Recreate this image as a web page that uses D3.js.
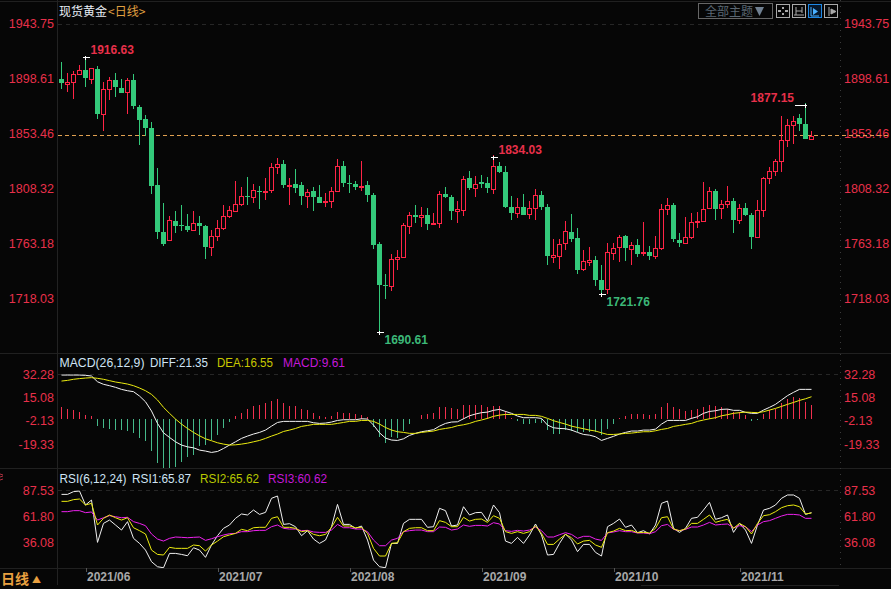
<!DOCTYPE html>
<html><head><meta charset="utf-8">
<script src="https://cdn.jsdelivr.net/npm/d3@7"></script>
<style>
html,body{margin:0;padding:0;background:#060606;overflow:hidden}
svg{display:block}
text{font-family:"Liberation Sans",Arial,sans-serif}
.cjk{font-family:"Noto Sans CJK SC",sans-serif}
</style></head><body><div id="c"></div>
<script>
const opens=[1898.4,1894.5,1896.1,1902.7,1905.7,1898.6,1906.5,1869.9,1890.4,1897.5,
1891.0,1888.0,1897.5,1875.4,1865.5,1858.1,1811.3,1772.7,1766.4,1781.7,
1778.5,1777.6,1774.4,1780.1,1777.6,1760.4,1769.7,1776.0,1785.9,1790.0,
1795.7,1802.3,1801.5,1806.4,1805.6,1807.2,1826.1,1828.6,1810.5,1812.1,
1811.3,1802.3,1806.4,1801.5,1797.1,1798.2,1806.4,1826.9,1813.0,1812.1,
1809.7,1811.3,1803.1,1762.9,1729.2,1728.4,1750.6,1752.2,1777.7,1786.7,
1785.0,1786.7,1779.3,1779.8,1803.9,1801.5,1790.0,1791.1,1817.1,1808.8,
1813.8,1813.0,1808.0,1826.9,1822.0,1793.3,1788.3,1793.3,1787.5,1792.4,
1803.1,1793.3,1752.2,1753.0,1763.7,1772.7,1767.8,1742.3,1748.1,1749.7,
1733.3,1726.2,1755.5,1760.4,1769.4,1758.8,1762.0,1755.2,1756.3,1753.0,
1759.8,1791.6,1794.9,1766.2,1763.7,1768.6,1780.9,1782.0,1792.4,1806.4,
1792.4,1795.7,1798.2,1782.6,1792.4,1786.7,1768.6,1790.8,1817.1,1822.8,
1831.0,1848.2,1860.6,1866.3,1861.4,1849.1];
const closes=[1895.1,1895.6,1902.2,1905.5,1899.2,1907.1,1869.6,1889.9,1897.2,1891.8,
1886.8,1897.2,1876.2,1864.7,1858.1,1810.5,1772.7,1762.9,1782.3,1777.6,
1777.6,1774.4,1779.8,1777.6,1760.4,1769.4,1776.0,1785.9,1790.8,1795.7,
1802.3,1801.5,1807.2,1805.6,1806.4,1826.1,1828.6,1811.3,1811.3,1808.8,
1802.3,1805.6,1801.5,1796.5,1798.2,1806.4,1826.9,1813.0,1812.1,1809.7,
1810.5,1803.1,1762.0,1729.2,1728.4,1750.6,1752.2,1778.5,1786.7,1785.0,
1786.7,1779.3,1780.1,1803.9,1801.5,1790.0,1791.6,1816.2,1808.8,1812.1,
1812.1,1808.8,1826.9,1822.0,1793.3,1788.3,1793.3,1786.7,1792.4,1803.1,
1793.3,1753.0,1753.8,1762.9,1773.5,1767.0,1741.5,1748.9,1749.7,1733.3,
1725.1,1756.3,1759.6,1768.6,1759.6,1762.0,1754.7,1756.3,1753.0,1759.6,
1791.6,1794.9,1767.0,1763.7,1768.6,1780.9,1781.7,1791.6,1806.4,1791.6,
1795.7,1798.2,1782.6,1792.4,1786.7,1768.6,1790.8,1817.1,1822.8,1831.0,
1848.2,1860.6,1863.8,1861.4,1849.1,1851.5];
const highs=[1912.3,1903.3,1904.6,1909.8,1916.63,1907.6,1909.0,1895.9,1899.7,1903.3,
1898.4,1899.2,1902.4,1877.0,1868.8,1863.0,1825.3,1796.5,1785.9,1790.0,
1794.9,1787.5,1790.0,1785.9,1778.5,1774.4,1782.6,1794.9,1794.1,1814.6,
1809.7,1817.9,1812.1,1810.5,1817.1,1829.4,1833.5,1831.8,1817.1,1824.4,
1813.8,1808.0,1809.7,1811.3,1804.8,1809.7,1832.7,1831.0,1819.5,1814.6,
1831.0,1814.6,1804.8,1764.5,1738.2,1754.7,1758.0,1780.1,1789.1,1794.9,
1793.3,1792.4,1788.3,1806.4,1809.7,1803.1,1798.2,1818.7,1822.8,1818.7,
1819.5,1817.9,1836.0,1830.2,1826.9,1802.3,1800.6,1803.9,1798.2,1808.0,
1806.4,1795.7,1767.0,1767.0,1781.8,1787.5,1776.0,1758.0,1760.4,1753.0,
1745.6,1763.7,1763.7,1770.3,1770.3,1764.5,1767.0,1780.9,1761.2,1769.4,
1795.7,1800.6,1796.5,1771.9,1785.0,1788.3,1789.1,1813.8,1809.7,1808.0,
1799.0,1810.5,1800.6,1795.7,1796.5,1788.3,1799.0,1817.9,1826.1,1832.6,
1868.0,1865.5,1868.0,1869.6,1878.6,1855.6];
const lows=[1890.1,1888.0,1881.9,1901.9,1891.8,1894.2,1865.5,1855.6,1881.1,1883.6,
1886.8,1869.6,1873.7,1844.1,1851.5,1803.9,1767.0,1761.2,1766.4,1771.9,
1773.5,1772.7,1773.5,1770.2,1750.5,1753.0,1765.3,1774.4,1784.2,1790.0,
1794.1,1794.9,1796.5,1791.6,1799.0,1804.8,1820.4,1808.8,1794.9,1804.8,
1794.9,1792.4,1790.0,1796.5,1793.3,1792.4,1806.4,1809.7,1804.8,1807.2,
1806.4,1797.3,1758.8,1690.61,1717.7,1724.3,1741.5,1751.4,1771.1,1780.1,
1776.8,1774.4,1778.5,1776.0,1800.6,1782.6,1780.1,1785.9,1807.2,1801.5,
1808.8,1804.8,1803.9,1821.2,1792.4,1782.6,1784.2,1786.7,1783.4,1782.6,
1790.8,1745.6,1747.3,1742.3,1758.0,1764.5,1738.2,1740.7,1744.8,1728.4,
1721.76,1721.8,1749.7,1748.1,1748.9,1745.6,1752.2,1753.0,1749.7,1750.5,
1758.0,1786.7,1764.5,1760.4,1762.9,1767.0,1776.0,1782.0,1792.4,1782.6,
1783.4,1792.4,1771.9,1779.3,1785.9,1758.7,1768.6,1785.0,1812.1,1818.7,
1822.0,1842.5,1845.0,1855.6,1849.1,1849.1];
const lastPrice=1852.1;
const priceTicks=[1943.75,1898.61,1853.46,1808.32,1763.18,1718.03];
const extremeIndex=[4,53,72,90,124];
const extremeValue=[1916.63,1690.61,1834.03,1721.76,1877.15];
const extremeKind=["high","low","high","low","highLeft"];

const diff=[31.5,31.5,31.5,31.5,31.3,30.8,26.6,24.7,23.7,22.5,
21.0,20.0,19.3,16.1,11.9,5.1,-4.0,-10.9,-14.3,-17.5,
-19.9,-21.2,-21.9,-23.6,-24.3,-25.3,-24.6,-22.4,-19.9,-17.5,
-15.0,-13.3,-11.8,-10.6,-8.9,-6.0,-3.3,-2.5,-2.5,-2.5,
-2.5,-2.5,-3.5,-4.0,-3.75,-3.0,-1.8,-1.3,-1.3,-1.3,
-0.6,-0.8,-5.2,-10.9,-14.8,-16.2,-16.5,-15.3,-12.8,-11.3,
-10.1,-9.4,-8.6,-6.0,-4.0,-3.0,-2.8,-0.6,1.6,2.9,
3.9,4.3,5.6,6.3,4.8,3.4,1.4,0.2,0.2,0.2,
-0.3,-5.2,-7.2,-7.7,-7.9,-8.9,-10.6,-12.1,-12.6,-13.8,
-16.5,-15.0,-13.5,-11.8,-10.6,-9.6,-9.6,-8.9,-8.9,-8.2,
-4.5,-1.8,-1.8,-1.8,-1.8,-0.3,0.9,3.4,4.8,5.3,
6.3,6.5,5.6,5.6,4.1,3.4,3.4,5.8,7.8,10.0,
13.2,16.4,18.8,21.0,21.0,21.0];
const dea=[27.1,27.6,28.4,28.9,29.3,29.6,29.1,28.4,27.4,26.4,
25.7,24.9,23.7,22.0,20.0,17.3,13.2,7.8,3.4,-0.8,
-4.5,-7.7,-10.6,-13.1,-15.3,-16.7,-18.2,-19.2,-19.9,-19.7,
-19.2,-18.5,-17.5,-16.5,-15.0,-13.3,-11.8,-9.9,-8.9,-7.7,
-6.2,-5.5,-4.7,-4.7,-4.7,-4.7,-4.0,-3.3,-2.5,-2.5,
-1.8,-1.8,-2.5,-4.5,-7.0,-8.9,-10.1,-10.6,-11.3,-11.3,
-10.6,-10.1,-9.6,-8.4,-7.7,-7.0,-5.7,-5.0,-4.0,-2.5,
-1.5,-0.3,1.2,2.1,2.6,2.6,2.6,2.6,1.9,1.9,
1.2,-0.3,-2.0,-3.3,-4.5,-6.0,-7.0,-7.9,-8.9,-9.6,
-10.9,-12.1,-12.1,-11.8,-11.3,-11.1,-10.6,-10.1,-10.1,-9.4,
-8.4,-7.7,-6.2,-5.5,-4.7,-4.0,-2.5,-1.5,-0.6,0.2,
1.6,2.4,3.4,3.9,4.3,4.1,3.9,4.6,5.8,7.0,
8.5,10.0,11.4,12.9,14.1,15.6];
const macd=[9.3,7.6,6.9,5.6,3.2,2.7,-4.9,-6.1,-6.9,-7.8,
-8.1,-8.6,-10.3,-13.7,-15.7,-23.0,-31.9,-35.5,-35.5,-35.3,
-31.1,-27.5,-26.0,-19.6,-18.6,-15.2,-11.8,-6.1,-2.0,2.7,
4.4,7.6,9.8,10.5,12.3,13.7,15.0,11.8,10.0,9.8,
7.4,6.9,4.9,2.5,2.0,2.7,5.4,4.7,4.7,3.7,
3.2,1.7,-5.9,-13.2,-17.2,-12.7,-13.7,-8.6,-3.4,0.25,
3.2,3.9,4.9,9.1,9.1,8.1,7.4,10.3,10.5,10.5,
10.5,9.3,9.8,9.8,5.9,1.0,-1.0,-3.4,-3.4,-2.5,
-2.5,-7.8,-10.8,-10.8,-7.8,-8.6,-9.6,-9.3,-9.3,-9.6,
-11.5,-7.1,-3.4,1.0,2.7,3.9,3.9,3.9,3.2,3.9,
9.1,12.0,9.1,7.6,6.1,6.9,7.6,9.1,10.5,9.8,
9.1,7.6,5.4,5.4,3.2,-1.0,-0.7,3.9,6.9,7.6,
12.0,15.0,16.2,15.7,12.7,10.5];
const macdTicks=[32.28,15.08,-2.13,-19.33];
const macdBase=-1.03;

const rsi1=[83.2,83.2,85.9,86.5,72.7,77.6,35.7,54.5,57.8,52.9,
47.9,56.2,39.7,34.7,28.1,16.6,11.6,10.6,24.8,24.8,
23.8,22.5,30.4,28.1,20.9,33.1,42.3,49.6,52.9,59.5,
63.8,62.8,67.7,63.4,65.4,79.3,81.6,53.5,54.2,51.2,
42.3,47.3,39.0,34.7,38.0,51.2,73.3,53.5,53.5,49.6,
51.9,38.0,18.2,11.6,10.6,34.7,34.7,54.5,58.5,58.5,
58.5,50.6,51.2,69.4,67.1,51.9,52.9,71.0,62.8,65.1,
65.4,56.8,72.7,65.1,37.0,34.7,40.7,34.7,43.0,53.9,
43.0,23.2,23.8,34.7,44.0,38.0,26.5,33.7,33.7,25.8,
22.2,51.2,54.5,58.8,50.6,52.9,45.3,47.3,44.0,52.9,
74.3,76.6,49.6,45.6,49.6,59.5,60.5,67.7,75.3,58.5,
60.1,62.8,45.6,54.5,47.9,34.7,52.9,67.7,69.4,72.7,
79.3,82.6,82.6,79.3,63.4,65.1];
const rsi2=[76.3,76.3,78.0,78.6,72.7,74.3,52.9,59.5,62.8,60.1,
57.8,60.1,50.2,47.3,44.0,28.1,23.8,23.2,30.8,29.8,
29.8,29.8,33.1,32.4,27.1,33.1,37.0,41.3,43.0,44.6,
48.6,47.3,50.2,50.6,50.6,59.5,61.1,50.6,50.6,49.6,
46.3,47.3,43.6,42.3,43.6,50.6,60.5,51.9,51.9,50.2,
50.6,44.6,29.8,22.2,22.2,34.7,35.4,46.3,49.6,50.2,
50.2,47.3,47.3,57.2,55.5,51.2,51.2,60.5,56.8,58.5,
58.8,55.5,62.1,59.5,46.3,44.6,46.3,44.6,46.3,51.9,
44.6,33.7,33.7,39.0,43.6,40.3,34.1,37.0,37.7,33.1,
30.8,45.3,46.9,49.6,47.3,47.6,45.3,45.6,45.0,49.6,
60.1,61.1,48.9,47.3,48.9,54.5,54.5,58.5,62.8,55.5,
57.2,58.5,49.6,54.5,51.2,44.0,54.5,62.1,63.1,66.1,
70.0,72.0,72.7,71.0,63.8,64.8];
const rsi3=[66.1,66.1,67.1,67.1,65.1,65.8,57.8,60.1,62.1,61.1,
60.1,60.5,56.2,54.5,52.2,44.0,39.0,37.0,39.7,41.0,
40.7,40.3,40.7,41.0,37.7,39.3,41.3,43.0,44.3,44.6,
46.3,46.3,47.3,47.6,47.6,51.2,52.9,49.6,48.9,48.9,
47.3,47.6,46.0,45.6,45.6,47.9,53.5,50.2,50.2,48.9,
48.9,46.3,38.0,32.4,32.4,38.0,39.7,46.3,47.3,47.9,
47.9,46.3,46.3,50.9,50.6,47.9,48.9,52.9,51.6,52.5,
52.5,51.9,55.2,53.9,47.3,46.6,47.6,46.9,47.9,50.9,
47.3,41.0,41.0,43.3,45.3,43.6,39.7,41.7,41.7,39.0,
37.7,45.0,46.0,47.3,46.3,46.3,45.0,45.0,44.3,46.3,
52.2,53.5,48.6,47.3,48.6,50.9,50.9,52.9,55.5,52.9,
53.5,53.9,50.2,52.2,51.2,46.3,52.9,56.2,57.2,59.5,
61.8,63.4,63.4,62.8,59.5,59.5];
const rsiTicks=[87.53,61.80,36.08];
const monthIndex=[4,26,48,70,92,113];
const monthLabels=["2021/06","2021/07","2021/08","2021/09","2021/10","2021/11"];

const W=891,H=589,L=57,R=840;
const RED="#ff2446",GREEN="#33c97a",AXRED="#e8304a";
const svg=d3.select("#c").append("svg").attr("width",W).attr("height",H).attr("viewBox",`0 0 ${W} ${H}`);
const x=d3.scaleLinear().domain([0,125]).range([61.5,811.5]);
const yP=d3.scaleLinear().domain([1690.61,1916.63]).range([332,56.7]);
const yM=d3.scaleLinear().domain([-19.33,32.28]).range([444.3,374]);
const yR=d3.scaleLinear().domain([36.08,87.53]).range([542,490]);

const defs=svg.append("defs");
defs.append("clipPath").attr("id","cm").append("rect").attr("x",L).attr("y",354).attr("width",R-L).attr("height",114);
defs.append("clipPath").attr("id","cr").append("rect").attr("x",L).attr("y",469).attr("width",R-L).attr("height",99);

// frame
const frame=svg.append("g").attr("shape-rendering","crispEdges");
[1,353,468,568].forEach(y=>frame.append("line").attr("x1",0).attr("x2",W).attr("y1",y+.5).attr("y2",y+.5).attr("stroke","#202020"));
frame.append("line").attr("x1",L+.5).attr("x2",L+.5).attr("y1",0).attr("y2",585).attr("stroke","#222");
frame.append("line").attr("x1",R+.5).attr("x2",R+.5).attr("y1",0).attr("y2",568).attr("stroke","#3a3a3a").attr("stroke-dasharray","1,5");
frame.append("line").attr("x1",641).attr("x2",839).attr("y1",585.5).attr("y2",585.5).attr("stroke","#222");
[yP(1943.75),yM(32.28),yR(87.53)].forEach(y=>frame.append("line").attr("x1",L+1).attr("x2",R).attr("y1",Math.round(y)+.5).attr("y2",Math.round(y)+.5)
  .attr("stroke","#262626").attr("stroke-dasharray","4,4"));

// axes
function axes(scale,vals){
  const f=d=>d.toFixed(2);
  [[L,d3.axisLeft,3],[R,d3.axisRight,4]].forEach(([tx,ax,pad])=>{
    const g=svg.append("g").attr("transform",`translate(${tx},0)`).call(ax(scale).tickValues(vals).tickSize(0).tickPadding(pad).tickFormat(f));
    g.select(".domain").remove();
    g.selectAll("text").attr("fill",AXRED).attr("font-size",12.5).attr("font-family",'"Liberation Sans",Arial,sans-serif');
  });
}
axes(yP,priceTicks);axes(yM,macdTicks);axes(yR,rsiTicks);

// last price
svg.append("line").attr("x1",L+1).attr("x2",W).attr("y1",Math.round(yP(lastPrice))+.5).attr("y2",Math.round(yP(lastPrice))+.5)
  .attr("stroke","#e0a050").attr("stroke-dasharray","4,3").attr("shape-rendering","crispEdges");

// candles
const idx=d3.range(opens.length);
const cg=svg.append("g").attr("shape-rendering","crispEdges");
const col=i=>closes[i]>=opens[i]?RED:GREEN;
cg.selectAll("line.w").data(idx).join("line").attr("class","w")
  .attr("x1",x).attr("x2",x).attr("y1",i=>yP(highs[i])).attr("y2",i=>yP(lows[i])).attr("stroke",col);
cg.selectAll("rect").data(idx).join("rect")
  .attr("x",i=>closes[i]>=opens[i]?x(i)-2:x(i)-2.5)
  .attr("width",i=>closes[i]>=opens[i]?4:5)
  .attr("y",i=>Math.round(yP(Math.max(opens[i],closes[i])))+(closes[i]>=opens[i]?.5:0))
  .attr("height",i=>Math.max(1,Math.round(yP(Math.min(opens[i],closes[i])))-Math.round(yP(Math.max(opens[i],closes[i])))))
  .attr("fill",i=>closes[i]>=opens[i]?"#060606":GREEN)
  .attr("stroke",i=>closes[i]>=opens[i]?RED:"none");

// extreme markers
const mk=svg.append("g").attr("shape-rendering","crispEdges");
extremeIndex.forEach((k,j)=>{
  const X=x(k),Y=Math.round(yP(extremeValue[j]))+.5,kind=extremeKind[j];
  const left=kind==="highLeft";
  mk.append("line").attr("x1",left?X-11:X-2.5).attr("x2",left?X+1:X+4.5).attr("y1",Y).attr("y2",Y).attr("stroke","#fff");
  mk.append("line").attr("x1",X).attr("x2",X).attr("y1",Y-2).attr("y2",Y+2).attr("stroke","#fff");
  const isLow=kind==="low";
  svg.append("text").text(extremeValue[j].toFixed(2))
    .attr("x",left?X-11.5:X+5).attr("text-anchor",left?"end":"start")
    .attr("y",isLow?Y+7:Y-8).attr("dy",".35em")
    .attr("font-size",12).attr("font-weight","bold").attr("fill",isLow?"#3cb878":"#e8304a");
});

// MACD
const mg=svg.append("g").attr("clip-path","url(#cm)");
mg.append("g").attr("shape-rendering","crispEdges").selectAll("line").data(idx).join("line")
  .attr("x1",x).attr("x2",x).attr("y1",yM(macdBase)).attr("y2",i=>yM(macdBase+macd[i]))
  .attr("stroke",i=>macd[i]>=0?"#f0304e":"#45b98a");
const lineM=d3.line().x((d,i)=>x(i)).y(d=>yM(d));
mg.append("path").attr("d",lineM(diff)).attr("fill","none").attr("stroke","#f4f4f4");
mg.append("path").attr("d",lineM(dea)).attr("fill","none").attr("stroke","#ecec10");

// RSI
const rg=svg.append("g").attr("clip-path","url(#cr)");
const lineR=d3.line().x((d,i)=>x(i)).y(d=>yR(d));
rg.append("path").attr("d",lineR(rsi1)).attr("fill","none").attr("stroke","#f0f0f0");
rg.append("path").attr("d",lineR(rsi3)).attr("fill","none").attr("stroke","#ee22ee");
rg.append("path").attr("d",lineR(rsi2)).attr("fill","none").attr("stroke","#ecec10");

// legends
function legend(y,items){items.forEach(([t,xx,c,w])=>svg.append("text").text(t).attr("x",xx).attr("y",y).attr("font-size",12).attr("textLength",w).attr("lengthAdjust","spacingAndGlyphs").attr("fill",c));}
legend(366.5,[["MACD(26,12,9)",59.5,"#cfe4f5",85],["DIFF:21.35",150,"#cfe4f5",58],["DEA:16.55",217,"#c8c800",56],["MACD:9.61",283,"#c418d8",62]]);
legend(482.5,[["RSI(6,12,24)",59.5,"#cfe4f5",67],["RSI1:65.87",132,"#cfe4f5",59],["RSI2:65.62",200,"#b8c800",59],["RSI3:60.62",268,"#c418d8",59]]);

// title
svg.append("text").attr("class","cjk").text("现货黄金").attr("x",59).attr("y",16).attr("font-size",12).attr("fill","#e8eef5");
svg.append("text").attr("class","cjk").text("<日线>").attr("x",108).attr("y",16).attr("font-size",12).attr("fill","#e0a040");

// month axis
const ax=svg.append("g").attr("transform","translate(0,568)").call(d3.axisBottom(x).tickValues(monthIndex).tickSize(4).tickFormat((d,i)=>monthLabels[i]));
ax.select(".domain").remove();
ax.selectAll("line").attr("stroke","#555").attr("shape-rendering","crispEdges");
ax.selectAll("text").attr("x",1).attr("y",4).attr("dy",".71em").attr("text-anchor","start").attr("fill","#a8a8a8")
  .attr("font-size",12).attr("font-weight","bold").attr("font-family",'"Liberation Sans",Arial,sans-serif');
svg.append("text").attr("class","cjk").text("日线").attr("x",1).attr("y",584).attr("font-size",14).attr("fill","#e8a040").attr("font-weight","bold");
svg.append("text").attr("class","cjk").text("▲").attr("x",32).attr("y",583).attr("font-size",9).attr("fill","#e8a040");
svg.append("path").attr("d","M0 474l3 1M0 477l3-1M0 480l3-1").attr("stroke","#b03040").attr("fill","none");

// toolbar
const tb=svg.append("g");
tb.append("rect").attr("x",698.5).attr("y",3.5).attr("width",74).attr("height",15).attr("fill","none").attr("stroke","#666").attr("shape-rendering","crispEdges");
tb.append("text").attr("class","cjk").text("全部主题").attr("x",705).attr("y",16).attr("font-size",12).attr("fill","#5a6672");
tb.append("path").attr("d","M755 7h9l-4.5 9z").attr("fill","#6f7f90");
[[776,"#aaa"],[792,"#aaa"],[808,"#1e88e5"],[824,"#aaa"]].forEach(([bx,c],j)=>{
  tb.append("rect").attr("x",bx+.5).attr("y",4.5).attr("width",13).attr("height",13).attr("fill",j==2?"#06182c":"none").attr("stroke",c).attr("shape-rendering","crispEdges");
});
const ic="#aaa";
tb.append("path").attr("d","M783 7v2M783 13v2M778 11h3M785 11h3").attr("stroke",ic).attr("stroke-width",2).attr("fill","none");
tb.append("path").attr("d","M794 15h10M796 7v8M796 11h6M802 7v6").attr("stroke",ic).attr("fill","none");
tb.append("path").attr("d","M811 7v9h8").attr("stroke","#4ab0ff").attr("fill","none");
tb.append("path").attr("d","M813 8l5 3.5-5 3.5z").attr("fill","#4ab0ff");
tb.append("path").attr("d","M829 7v9M831 9v5l5-2.5z").attr("stroke",ic).attr("fill",ic);
</script></body></html>
